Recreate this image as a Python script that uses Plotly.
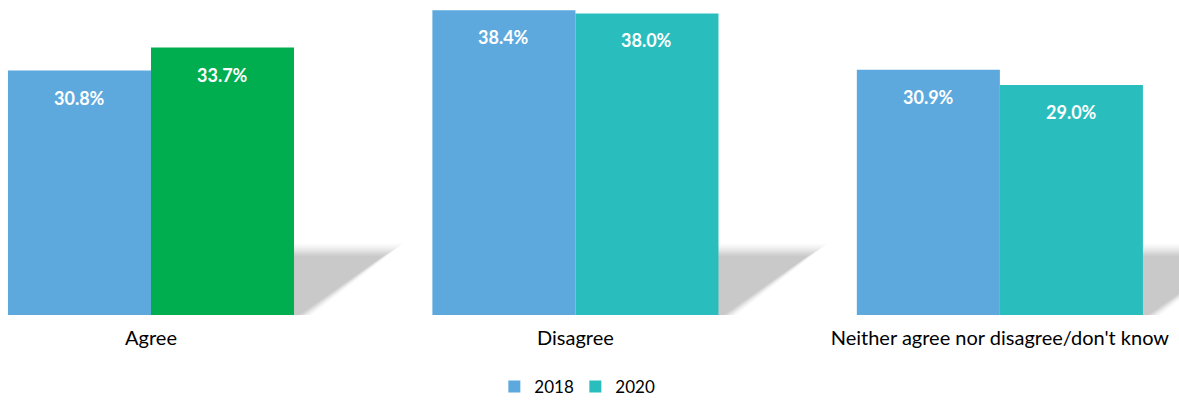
import plotly.graph_objects as go

categories = ["Agree", "Disagree", "Neither agree nor disagree/don't know"]
series_names = ["2018", "2020"]
values_2018 = [30.8, 38.4, 30.9]
values_2020 = [33.7, 38.0, 29.0]
labels_2018 = ["30.8%", "38.4%", "30.9%"]
labels_2020 = ["33.7%", "38.0%", "29.0%"]

C2018 = "#5DA9DD"
C2020 = "#29BDBE"
CGREEN = "#00AE4F"
colors_2020 = [CGREEN, C2020, C2020]

FONT = "Lato"
BARGAP = 0.326
half = (1 - BARGAP) / 2
bw = half

xs = list(range(len(categories)))

fig = go.Figure()
fig.add_trace(go.Bar(
    x=xs, y=values_2018, name=series_names[0], offsetgroup="a",
    marker=dict(color=C2018, line=dict(width=0)), hoverinfo="skip"))
fig.add_trace(go.Bar(
    x=xs, y=values_2020, name=series_names[1], offsetgroup="b", showlegend=False,
    marker=dict(color=colors_2020, line=dict(width=0)), hoverinfo="skip"))
# legend entry for 2020 in its regular colour
fig.add_trace(go.Bar(
    x=[None], y=[None], name=series_names[1], offsetgroup="b",
    marker=dict(color=C2020, line=dict(width=0)), hoverinfo="skip"))

# value labels
annotations = []
for i, (v, t) in enumerate(zip(values_2018, labels_2018)):
    annotations.append(dict(x=i - bw / 2, y=v, text="<b>%s</b>" % t, showarrow=False,
                            yanchor="middle", yshift=-27, font=dict(color="white", size=18, family=FONT)))
for i, (v, t) in enumerate(zip(values_2020, labels_2020)):
    annotations.append(dict(x=i + bw / 2, y=v, text="<b>%s</b>" % t, showarrow=False,
                            yanchor="middle", yshift=-27, font=dict(color="white", size=18, family=FONT)))

# soft shadows to the right of each group
PX_X = 1 / 424.5
PX_Y = 1 / 7.93
shapes = []
layers = [(11, "#fafafa"), (9, "#f4f4f4"), (7, "#ececec"), (5, "#e3e3e3"), (3, "#d9d9d9"),
          (1, "#d0d0d0"), (-1, "#c9c9c9")]
for i in xs:
    xr = i + half
    for d, col in layers:
        top = 7.6 + d * PX_Y
        x_left = xr - 0.05
        x_tr = xr + 0.215 + d * PX_X * 1.6
        x_br = xr + 0.015 + d * PX_X
        path = "M %f,%f L %f,%f L %f,%f L %f,%f Z" % (x_left, 0, x_left, top, x_tr, top, x_br, 0)
        shapes.append(dict(type="path", path=path, xref="x", yref="y", layer="below",
                           fillcolor=col, line=dict(width=0)))

fig.update_layout(
    width=1179, height=401,
    margin=dict(l=0, r=0, t=0, b=86),
    paper_bgcolor="white", plot_bgcolor="white",
    barmode="group", bargap=BARGAP, bargroupgap=0,
    font=dict(family=FONT, color="#000000"),
    showlegend=True,
    legend=dict(orientation="h", x=0.488, xanchor="center", y=0.035, yanchor="middle", yref="container",
                font=dict(size=17, family=FONT), itemwidth=30, tracegroupgap=0,
                entrywidth=36, entrywidthmode="pixels"),
    xaxis=dict(tickmode="array", tickvals=xs, ticktext=categories, range=[-0.3557, 2.422],
               showgrid=False, zeroline=False, showline=False, ticks="",
               tickfont=dict(size=20, family=FONT), ticklabelstandoff=9),
    yaxis=dict(range=[0, 39.7], visible=False),
    annotations=annotations,
    shapes=shapes,
)

fig.write_html("out.html", config={"displayModeBar": False},
               post_script="document.body.style.margin='0';")
